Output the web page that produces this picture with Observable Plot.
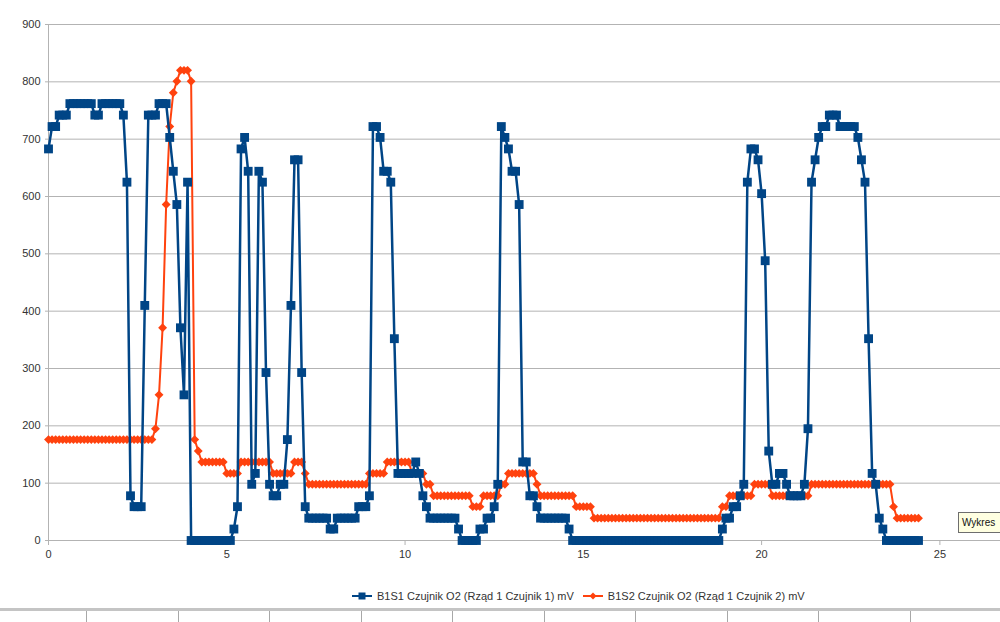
<!DOCTYPE html>
<html>
<head>
<meta charset="utf-8">
<script src="https://cdn.jsdelivr.net/npm/d3@7"></script>
<script src="https://cdn.jsdelivr.net/npm/@observablehq/plot@0.6"></script>
<style>
  html, body { margin: 0; padding: 0; background: #fff; }
  #wrap { position: relative; width: 1000px; height: 622px; overflow: hidden; font-family: "Liberation Sans", Arial, sans-serif; }
  #chart { position: absolute; left: 0; top: 0; }
  #legend { position: absolute; top: 590px; left: 352px; font-size: 11px; color: #333; display: flex; align-items: center; white-space: nowrap; }
  #legend .item { display: flex; align-items: center; margin-right: 9px; }
  #legend svg { margin-right: 5px; }
  #tip { position: absolute; left: 958px; top: 512px; width: 60px; height: 21px; box-sizing: border-box; border: 1px solid #6e6e6e; background: #ffffe1; font-size: 10px; line-height: 19px; padding-left: 3px; color: #111; white-space: nowrap; }
  #strip { position: absolute; left: 0; top: 608px; width: 1000px; height: 14px; border-top: 3px solid #c4c4c4; box-sizing: border-box;
    background: repeating-linear-gradient(to right, transparent 0px, transparent 86px, #a8a8a8 86px, #a8a8a8 87px, transparent 87px, transparent 91.5px); }
</style>
</head>
<body>
<div id="wrap">
  <div id="chart"></div>
  <div id="legend"></div>
  <div id="tip">Wykres</div>
  <div id="strip"></div>
</div>
<script>
// Sampling interval of the OBD log (seconds)
const sampleInterval = 0.1;

const seriesNames = [
  "B1S1 Czujnik O2 (Rząd 1 Czujnik 1) mV",
  "B1S2 Czujnik O2 (Rząd 1 Czujnik 2) mV"
];

// B1S1 values (mV), one per sample
const b1s1 = [
  683,722,722,742,742,742,762,762,762,762,
  762,762,762,742,742,762,762,762,762,762,
  762,742,625,78,59,59,59,410,742,742,
  742,762,762,762,703,644,586,371,254,625,
  0,0,0,0,0,0,0,0,0,0,
  0,0,20,59,683,703,644,98,117,644,
  625,293,98,78,78,98,98,176,410,664,
  664,293,59,39,39,39,39,39,39,20,
  20,39,39,39,39,39,39,59,59,59,
  78,722,722,703,644,644,625,352,117,117,
  117,117,117,137,117,78,59,39,39,39,
  39,39,39,39,39,20,0,0,0,0,
  0,20,20,39,39,59,98,722,703,683,
  644,644,586,137,137,78,78,59,39,39,
  39,39,39,39,39,39,20,0,0,0,
  0,0,0,0,0,0,0,0,0,0,
  0,0,0,0,0,0,0,0,0,0,
  0,0,0,0,0,0,0,0,0,0,
  0,0,0,0,0,0,0,0,0,20,
  39,39,59,59,78,98,625,683,683,664,
  605,488,156,98,98,117,117,98,78,78,
  78,78,98,195,625,664,703,722,722,742,
  742,742,722,722,722,722,722,703,664,625,
  352,117,98,39,20,0,0,0,0,0,
  0,0,0,0,0
];

// B1S2 values (mV), one per sample
const b1s2 = [
  176,176,176,176,176,176,176,176,176,176,
  176,176,176,176,176,176,176,176,176,176,
  176,176,176,176,176,176,176,176,176,176,
  195,254,371,586,722,781,801,820,820,820,
  801,176,156,137,137,137,137,137,137,137,
  117,117,117,117,137,137,137,137,137,137,
  137,137,137,117,117,117,117,117,117,137,
  137,137,117,98,98,98,98,98,98,98,
  98,98,98,98,98,98,98,98,98,98,
  117,117,117,117,117,137,137,137,137,137,
  137,137,117,117,117,117,98,98,78,78,
  78,78,78,78,78,78,78,78,78,59,
  59,59,78,78,78,78,78,98,98,117,
  117,117,117,117,117,117,117,98,78,78,
  78,78,78,78,78,78,78,78,59,59,
  59,59,59,39,39,39,39,39,39,39,
  39,39,39,39,39,39,39,39,39,39,
  39,39,39,39,39,39,39,39,39,39,
  39,39,39,39,39,39,39,39,39,59,
  59,78,78,78,78,78,78,78,98,98,
  98,98,98,78,78,78,78,78,78,78,
  78,78,78,78,98,98,98,98,98,98,
  98,98,98,98,98,98,98,98,98,98,
  98,98,98,98,98,98,98,59,39,39,
  39,39,39,39,39
];

const xTicks = [0, 5, 10, 15, 20, 25];
const yTicks = [0, 100, 200, 300, 400, 500, 600, 700, 800, 900];

const colors = ["#004586", "#ff420e"];

const blue = b1s1.map((v, i) => ({t: i * sampleInterval, v}));
const orange = b1s2.map((v, i) => ({t: i * sampleInterval, v}));

const chart = Plot.plot({
  width: 1000,
  height: 575,
  marginLeft: 48,
  marginRight: 0,
  marginTop: 24,
  marginBottom: 35,
  style: {fontFamily: '"Liberation Sans", Arial, sans-serif', fontSize: "11px", color: "#333", background: "transparent", overflow: "visible"},
  x: {domain: [0, 26.7], label: null},
  y: {domain: [0, 900], label: null},
  marks: [
    Plot.gridY(yTicks, {stroke: "#b3b3b3", strokeOpacity: 1}),
    Plot.ruleX([0], {stroke: "#b3b3b3"}),
    Plot.ruleY([0], {stroke: "#b3b3b3"}),
    Plot.axisY(yTicks, {tickSize: 3, tickPadding: 5, stroke: "#b3b3b3", label: null}),
    Plot.axisX(xTicks, {tickSize: 5, tickPadding: 5, stroke: "#b3b3b3", label: null}),
    Plot.line(orange, {x: "t", y: "v", stroke: colors[1], strokeWidth: 2}),
    Plot.dot(orange, {x: "t", y: "v", symbol: "diamond2", r: 4, fill: colors[1]}),
    Plot.line(blue, {x: "t", y: "v", stroke: colors[0], strokeWidth: 2.5}),
    Plot.dot(blue, {x: "t", y: "v", symbol: "square", r: 5, fill: colors[0]})
  ]
});
document.getElementById("chart").appendChild(chart);

// Legend
const legend = document.getElementById("legend");
seriesNames.forEach((name, i) => {
  const item = document.createElement("div");
  item.className = "item";
  const marker = i === 0
    ? `<rect x="6.5" y="1.5" width="7" height="7" fill="${colors[0]}"/>`
    : `<path d="M10,1.5 L13.5,5 L10,8.5 L6.5,5 Z" fill="${colors[1]}"/>`;
  item.innerHTML = `<svg width="20" height="10"><line x1="0" y1="5" x2="20" y2="5" stroke="${colors[i]}" stroke-width="2"/>${marker}</svg><span>${name}</span>`;
  legend.appendChild(item);
});
</script>
</body>
</html>
